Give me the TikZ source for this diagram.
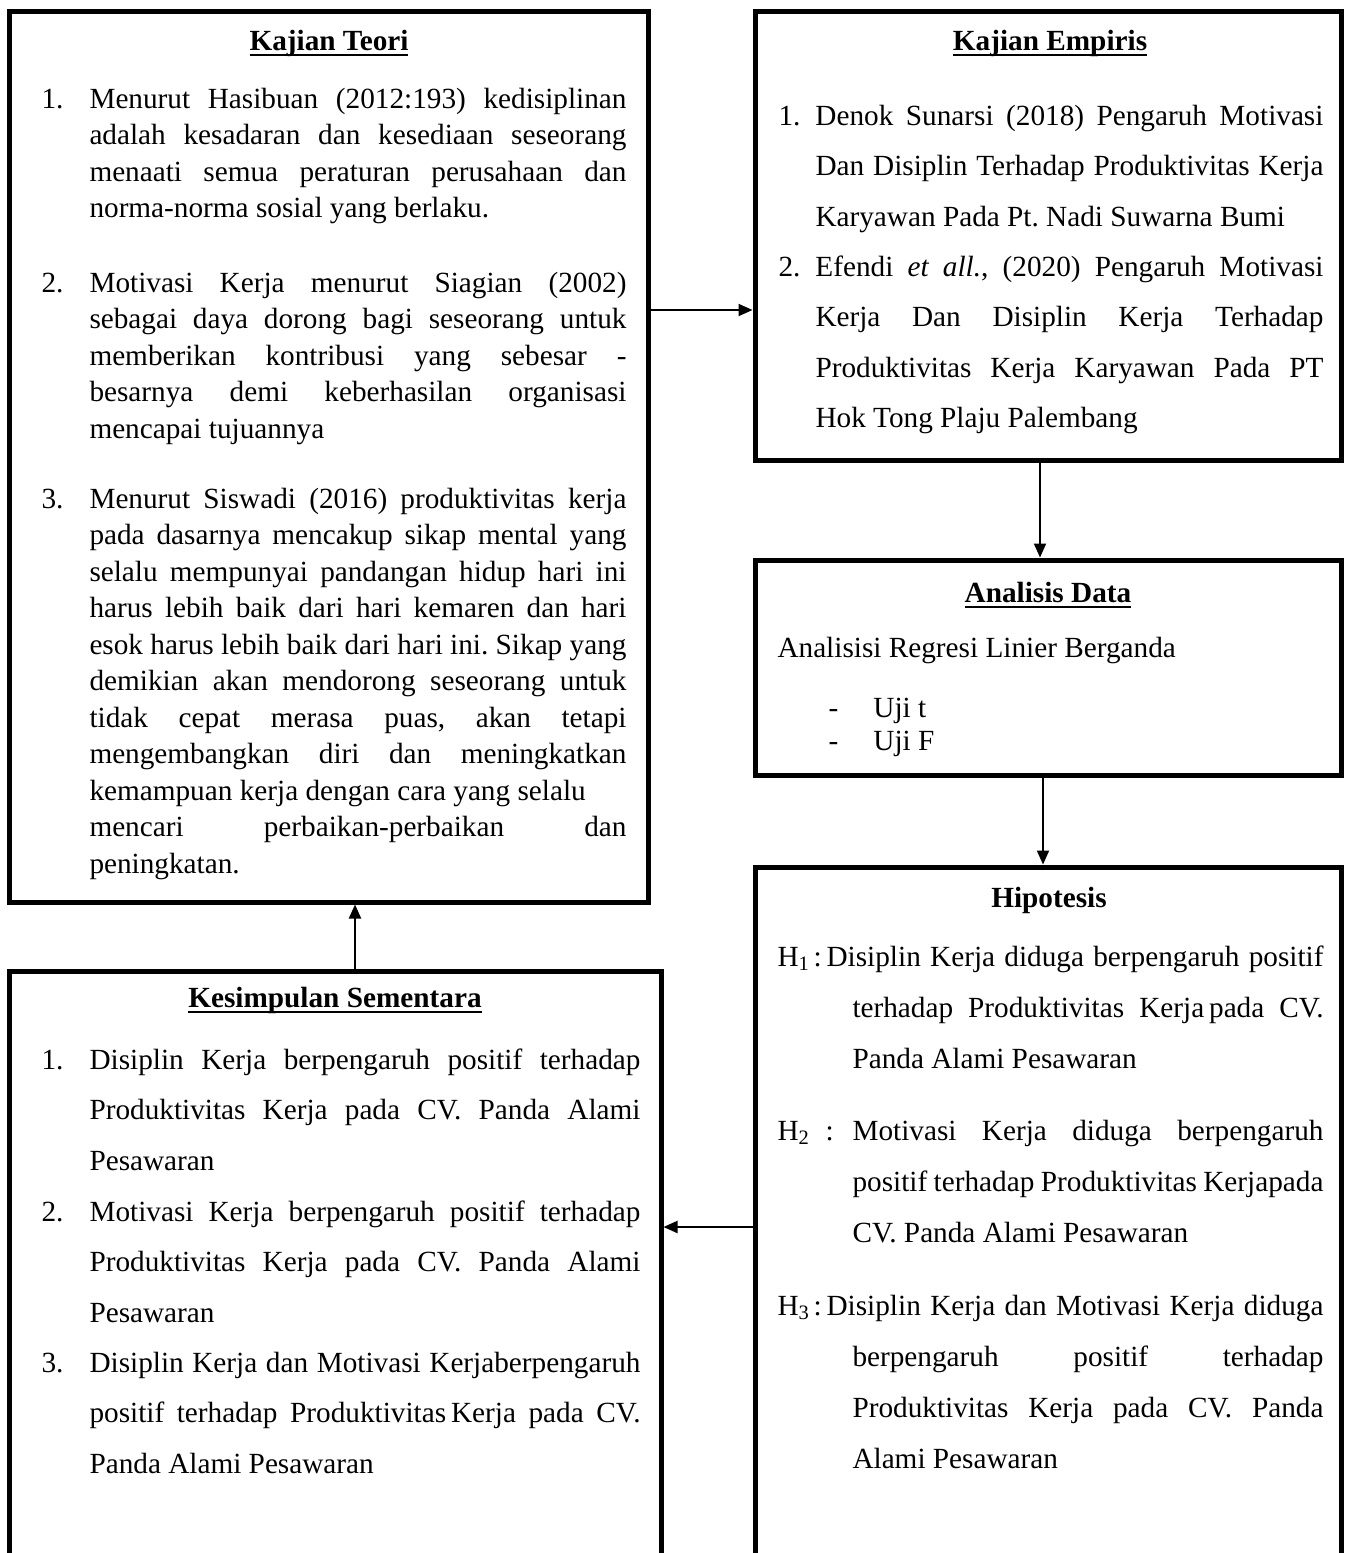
\documentclass[tikz,border=0pt]{standalone}
\usepackage{fontspec}
\setmainfont{Liberation Serif}
\usetikzlibrary{arrows.meta}
\hyphenpenalty=10000
\exhyphenpenalty=10000
\tolerance=10000
\hbadness=10000
\AtBeginDocument{\frenchspacing}
\newcommand{\nomor}[2]{\leavevmode\llap{\makebox[#1][l]{#2}}}
\newcommand{\gantung}{\leavevmode\hangindent=30pt\hangafter=1\relax}
\newcommand{\garis}[1]{\setbox0\hbox{#1}\rlap{\rule[-2.5pt]{\wd0}{0.9pt}}\box0}
\tikzset{
	kotak/.style={draw, line width=2pt, inner sep=0pt},
	judul/.style={anchor=base, inner sep=0pt, font=\fontsize{11.7}{14}\selectfont\bfseries},
	isi/.style 2 args={anchor=base west, inner sep=0pt, text width=#1, align=justify, font=\fontsize{11.7}{#2}\selectfont},
	baris/.style={anchor=base west, inner sep=0pt, font=\fontsize{11.7}{14}\selectfont},
	panah/.style={line width=0.8pt, -{Triangle[length=5.6pt,width=4.8pt]}}
}
\begin{document}
\begin{tikzpicture}[x=0.4pt, y=-0.4pt, line join=miter]
				\clip (0,0) rectangle (1345,1553);
				\path
				(0,310) coordinate (p1)
				(0,1227) coordinate (p2)
				(1040,0) coordinate (q1)
				(1043,0) coordinate (q2)
				(355,0) coordinate (q3)
				;
				% kotak
				\node[kotak, minimum width=255.2pt, minimum height=356pt] (teori) at (329,457) {};
				\node[kotak, minimum width=234.4pt, minimum height=179.2pt] (empiris) at (1048,236) {};
				\node[kotak, minimum width=234.4pt, minimum height=86pt] (analisis) at (1048,667.5) {};
				\node[kotak, minimum width=234.4pt, minimum height=293.2pt] (hipotesis) at (1048,1233.5) {};
				\node[kotak, minimum width=260.4pt, minimum height=251.6pt] (kesimpulan) at (335.5,1285.5) {};
				% judul
				\node[judul] (jt) at (329,50) {\garis{Kajian Teori}};
				\node[judul] (je) at (1050,50) {\garis{Kajian Empiris}};
				\node[judul] (ja) at (1048,602) {\garis{Analisis Data}};
				\node[judul] (jh) at (1049,907) {Hipotesis};
				\node[judul] (jk) at (335,1007) {\garis{Kesimpulan Sementara}};
				% kajian teori
				\node[isi={214.8pt}{14.6pt}] (t1) at (89,108) {\nomor{19.2pt}{1.}Menurut Hasibuan (2012:193) kedisiplinan\linebreak adalah kesadaran dan kesediaan seseorang\linebreak menaati semua peraturan perusahaan dan\linebreak norma-norma sosial yang berlaku.};
				\node[isi={214.8pt}{14.6pt}] (t2) at (89,292) {\nomor{19.2pt}{2.}Motivasi Kerja menurut Siagian (2002)\linebreak sebagai daya dorong bagi seseorang untuk\linebreak memberikan kontribusi yang sebesar -\linebreak besarnya demi keberhasilan organisasi\linebreak mencapai tujuannya};
				\node[isi={214.8pt}{14.6pt}] (t3) at (89,508) {\nomor{19.2pt}{3.}Menurut Siswadi (2016) produktivitas kerja\linebreak pada dasarnya mencakup sikap mental yang\linebreak selalu mempunyai pandangan hidup hari ini\linebreak harus lebih baik dari hari kemaren dan hari\linebreak esok harus lebih baik dari hari ini. Sikap yang\linebreak demikian akan mendorong seseorang untuk\linebreak tidak cepat merasa puas, akan tetapi\linebreak mengembangkan diri dan meningkatkan\linebreak kemampuan kerja dengan cara yang selalu\newline mencari perbaikan-perbaikan dan\linebreak peningkatan.};
				% kajian empiris
				\node[isi={203.2pt}{20.2pt}] (e1) at (815,125) {\nomor{14.8pt}{1.}Denok Sunarsi (2018) Pengaruh Motivasi\linebreak Dan Disiplin Terhadap Produktivitas Kerja\linebreak Karyawan Pada Pt. Nadi Suwarna Bumi};
				\node[isi={203.2pt}{20.2pt}] (e2) at (815,276) {\nomor{14.8pt}{2.}Efendi \textit{et all.}, (2020) Pengaruh Motivasi\linebreak Kerja Dan Disiplin Kerja Terhadap\linebreak Produktivitas Kerja Karyawan Pada PT\linebreak Hok Tong Plaju Palembang};
				% analisis data
				\node[baris] (a1) at (777,657) {Analisisi Regresi Linier Berganda};
				\node[baris] (a2) at (828,717) {\makebox[18pt][l]{-}Uji t};
				\node[baris] (a3) at (828,750) {\makebox[18pt][l]{-}Uji F};
				% hipotesis
				\node[isi={218.4pt}{20.4pt}] (h1) at (777,966) {\gantung\makebox[14.4pt][l]{H\textsubscript{1}}:\hspace{2pt}Disiplin Kerja diduga berpengaruh positif\linebreak terhadap Produktivitas Kerja\,pada CV.\linebreak Panda Alami Pesawaran\par};
				\node[isi={218.4pt}{20.4pt}] (h2) at (777,1140) {\gantung\makebox[19.2pt][l]{H\textsubscript{2}}\makebox[10.8pt][l]{:}Motivasi Kerja diduga berpengaruh\linebreak positif terhadap Produktivitas Kerjapada\linebreak CV. Panda Alami Pesawaran\par};
				\node[isi={218.4pt}{20.4pt}] (h3) at (777,1315) {\gantung\makebox[14.4pt][l]{H\textsubscript{3}}:\hspace{2pt}Disiplin Kerja dan Motivasi Kerja diduga\linebreak berpengaruh positif terhadap\linebreak Produktivitas Kerja pada CV. Panda\linebreak Alami Pesawaran\par};
				% kesimpulan sementara
				\node[isi={220.4pt}{20.25pt}] (k1) at (89,1069) {\nomor{19.2pt}{1.}Disiplin Kerja berpengaruh positif terhadap\linebreak Produktivitas Kerja pada CV. Panda Alami\linebreak Pesawaran};
				\node[isi={220.4pt}{20.25pt}] (k2) at (89,1221) {\nomor{19.2pt}{2.}Motivasi Kerja berpengaruh positif terhadap\linebreak Produktivitas Kerja pada CV. Panda Alami\linebreak Pesawaran};
				\node[isi={220.4pt}{20.25pt}] (k3) at (89,1372) {\nomor{19.2pt}{3.}Disiplin Kerja dan Motivasi Kerjaberpengaruh\linebreak positif terhadap Produktivitas\,Kerja pada CV.\linebreak Panda Alami Pesawaran};
				% panah
				\draw[panah] (teori.east |- p1) -- (empiris.west |- p1);
				\draw[panah] (empiris.south -| q1) -- (analisis.north -| q1);
				\draw[panah] (analisis.south -| q2) -- (hipotesis.north -| q2);
				\draw[panah] (hipotesis.west |- p2) -- (kesimpulan.east |- p2);
				\draw[panah] (kesimpulan.north -| q3) -- (teori.south -| q3);
\end{tikzpicture}
\end{document}
